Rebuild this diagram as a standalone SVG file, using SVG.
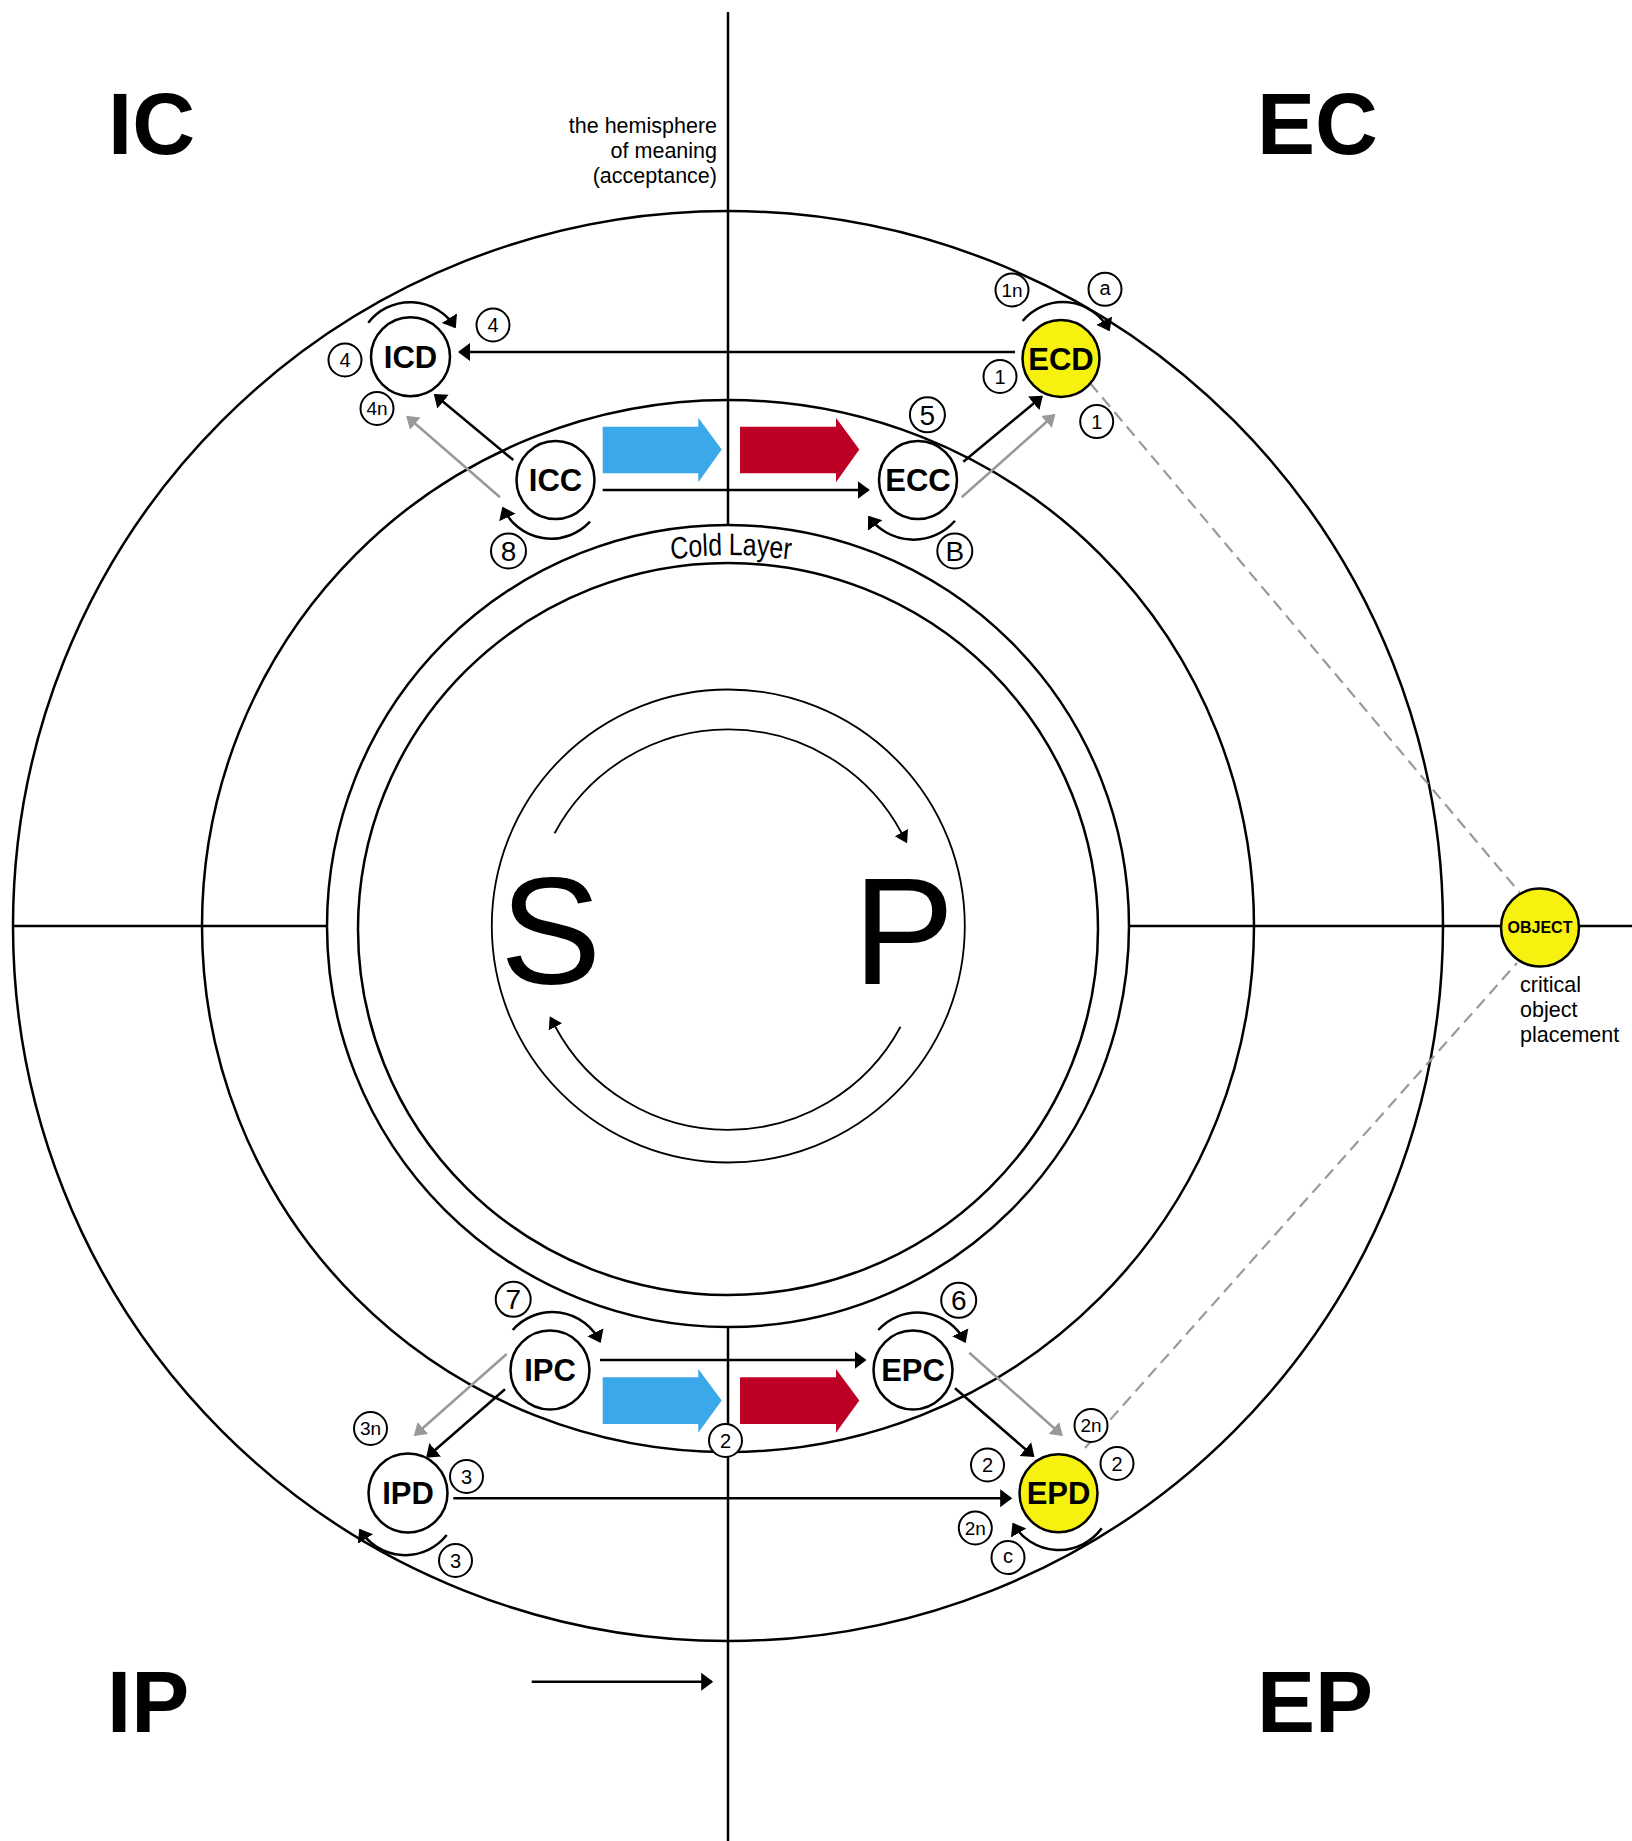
<svg xmlns="http://www.w3.org/2000/svg" width="1632" height="1841" viewBox="0 0 1632 1841">
<style>
text{font-family:'Liberation Sans',Arial,Helvetica,sans-serif;fill:#000}
.ln{fill:none;stroke:#000;stroke-width:2.5}
.thin{fill:none;stroke:#000;stroke-width:1.8}
.arr{fill:none;stroke:#000;stroke-width:2.5;marker-end:url(#ah)}
.garr{fill:none;stroke:#999;stroke-width:2.5;marker-end:url(#gah)}
.iarr{fill:none;stroke:#000;stroke-width:1.8;marker-end:url(#sah)}
.dash{fill:none;stroke:#9a9a9a;stroke-width:2.2;stroke-dasharray:12 7}
.node{fill:#fff;stroke:#000;stroke-width:2.5}
.ynode{fill:#F6F10E;stroke:#000;stroke-width:2.5}
.nl{font-size:31px;font-weight:bold;text-anchor:middle}
.sc{fill:#fff;stroke:#000;stroke-width:2}
.st{font-size:20px;text-anchor:middle}
.sn{font-size:19px;text-anchor:middle}
.bt{font-size:28px;text-anchor:middle}
.big{font-size:87px;font-weight:bold}
.note{font-size:21.5px}
</style>
<defs>
<marker id="ah" markerUnits="userSpaceOnUse" markerWidth="14" markerHeight="20" viewBox="0 0 14 20" refX="10.5" refY="10" orient="auto"><path d="M0,1 L12,10 L0,19 z" fill="#000"/></marker>
<marker id="gah" markerUnits="userSpaceOnUse" markerWidth="14" markerHeight="20" viewBox="0 0 14 20" refX="10.5" refY="10" orient="auto"><path d="M0,2 L12,10 L0,18 z" fill="#999"/></marker>
<marker id="sah" markerUnits="userSpaceOnUse" markerWidth="14" markerHeight="18" viewBox="0 0 14 18" refX="1" refY="8" orient="auto"><path d="M0,0.5 L12,8 L0,15.5 z" fill="#000"/></marker>
<path id="coldpath" d="M -463.75,0 A 463.75 371 0 0 1 463.75,0"/>
</defs>

<g id="background">
<circle cx="728" cy="926" r="715" class="ln"/>
<circle cx="728" cy="926" r="526" class="ln"/>
<circle cx="728" cy="926" r="401" class="ln"/>
<ellipse cx="728" cy="929" rx="370" ry="366" class="ln"/>
<circle cx="728.3" cy="926" r="236.5" class="thin"/>
<line x1="728" y1="12" x2="728" y2="525" class="ln"/>
<line x1="728" y1="1327" x2="728" y2="1841" class="ln"/>
<line x1="12" y1="926" x2="327" y2="926" class="ln"/>
<line x1="1129" y1="926" x2="1632" y2="926" class="ln"/>
</g>

<g id="labels">
<text x="108" y="154" class="big">IC</text>
<text x="1257" y="154" class="big">EC</text>
<text x="107" y="1732" class="big">IP</text>
<text x="1257" y="1732" class="big">EP</text>
<text x="500" y="984" font-size="152">S</text>
<text x="853" y="984" font-size="152">P</text>
<text class="note" text-anchor="end"><tspan x="717" y="132.5">the hemisphere</tspan><tspan x="717" y="157.5">of meaning</tspan><tspan x="717" y="182.5">(acceptance)</tspan></text>
<text class="note"><tspan x="1520" y="991.5">critical</tspan><tspan x="1520" y="1016.5">object</tspan><tspan x="1520" y="1041.5">placement</tspan></text>
<text transform="translate(731,926) scale(0.8,1)" font-size="31"><textPath href="#coldpath" startOffset="50%" text-anchor="middle">Cold Layer</textPath></text>
</g>

<g id="flow-arrows">
<polygon points="602.7,426.7 698.3,426.7 698.3,417.7 721.7,449.5 698.3,482.3 698.3,473.3 602.7,473.3" fill="#3BA8E9"/>
<polygon points="740,426.7 836,426.7 836,417.7 859.3,449.5 836,482.3 836,473.3 740,473.3" fill="#BE0027"/>
<polygon points="602.7,1377.3 698.3,1377.3 698.3,1369 721.7,1400.5 698.3,1432.7 698.3,1424 602.7,1424" fill="#3BA8E9"/>
<polygon points="740,1377.3 836,1377.3 836,1369 859.3,1400.5 836,1432.7 836,1424 740,1424" fill="#BE0027"/>
</g>

<g id="connectors">
<path d="M 554.6,833.2 A 197 197 0 0 1 901.9,833.5" class="iarr"/>
<path d="M 900.5,1026.8 A 196 196 0 0 1 554.9,1026" class="iarr"/>
<path d="M 1015,352 L 459.5,352" class="arr"/>
<path d="M 513.3,460 L 435,395" class="arr"/>
<path d="M 500,497.3 L 407.3,416.7" class="garr"/>
<path d="M 602.7,490 L 868.3,490" class="arr"/>
<path d="M 963.3,461.7 L 1041.7,396.7" class="arr"/>
<path d="M 961.7,497.3 L 1054.3,415" class="garr"/>
<path d="M 600,1360 L 865,1360" class="arr"/>
<path d="M 506.7,1354 L 415,1435" class="garr"/>
<path d="M 505,1389.3 L 427.3,1456.7" class="arr"/>
<path d="M 969.3,1352.7 L 1061.7,1435" class="garr"/>
<path d="M 955,1388.3 L 1033.3,1456" class="arr"/>
<path d="M 453.3,1498.3 L 1010.7,1498.3" class="arr"/>
<path d="M 531.7,1681.7 L 711.7,1681.7" class="arr"/>
<path d="M 368.3,322.7 A 53 53 0 0 1 455,327" class="arr"/>
<path d="M 1022.7,321 A 52 52 0 0 1 1109,330" class="arr"/>
<path d="M 590,521.7 A 53 53 0 0 1 503,508" class="arr"/>
<path d="M 955,520.7 A 55 55 0 0 1 869,517" class="arr"/>
<path d="M 512.7,1330 A 53 53 0 0 1 600,1341.7" class="arr"/>
<path d="M 878.3,1330 A 53 53 0 0 1 965,1341.7" class="arr"/>
<path d="M 446.7,1535 A 53 53 0 0 1 360,1530" class="arr"/>
<path d="M 1101.7,1528.3 A 53 53 0 0 1 1013.3,1524" class="arr"/>
<path d="M 1090,383 L 1520,893" class="dash"/>
<path d="M 1085,1448 L 1517,963" class="dash"/>
</g>

<g id="ICD"><circle cx="410.5" cy="356.7" r="39.5" class="node"/><text x="410.5" y="367.8" class="nl">ICD</text></g>
<g id="ICC"><circle cx="555.5" cy="480" r="39" class="node"/><text x="555.5" y="491.1" class="nl">ICC</text></g>
<g id="ECD"><circle cx="1061" cy="358.5" r="38.5" class="ynode"/><text x="1061" y="369.6" class="nl">ECD</text></g>
<g id="ECC"><circle cx="918" cy="480" r="39" class="node"/><text x="918" y="491.1" class="nl">ECC</text></g>
<g id="IPC"><circle cx="550" cy="1370" r="39.5" class="node"/><text x="550" y="1381.1" class="nl">IPC</text></g>
<g id="EPC"><circle cx="913" cy="1370" r="39.5" class="node"/><text x="913" y="1381.1" class="nl">EPC</text></g>
<g id="IPD"><circle cx="408" cy="1493" r="39.5" class="node"/><text x="408" y="1504.1" class="nl">IPD</text></g>
<g id="EPD"><circle cx="1058.5" cy="1493.3" r="39" class="ynode"/><text x="1058.5" y="1504.4" class="nl">EPD</text></g>
<g id="OBJECT"><circle cx="1540" cy="927.5" r="39" class="ynode"/><text x="1540" y="933.2" font-size="16" font-weight="bold" text-anchor="middle">OBJECT</text></g>

<g id="markers-small">
<g id="m4a"><circle cx="493" cy="325" r="16.5" class="sc"/><text x="493" y="332.2" class="st">4</text></g>
<g id="m4b"><circle cx="345" cy="360" r="16.5" class="sc"/><text x="345" y="367.2" class="st">4</text></g>
<g id="m4n"><circle cx="377" cy="408.5" r="16.5" class="sc"/><text x="377" y="415.3" class="sn">4n</text></g>
<g id="m8"><circle cx="508.5" cy="551" r="17.5" class="sc"/><text x="508.5" y="561" class="bt">8</text></g>
<g id="m1n"><circle cx="1012" cy="290" r="16.5" class="sc"/><text x="1012" y="296.8" class="sn">1n</text></g>
<g id="ma"><circle cx="1105" cy="289.3" r="16.5" class="sc"/><text x="1105" y="294.5" class="st">a</text></g>
<g id="m1a"><circle cx="1000" cy="376.5" r="16.5" class="sc"/><text x="1000" y="383.7" class="st">1</text></g>
<g id="m1b"><circle cx="1096.7" cy="421.6" r="16.5" class="sc"/><text x="1096.7" y="428.8" class="st">1</text></g>
<g id="m5"><circle cx="927.4" cy="414.8" r="17.5" class="sc"/><text x="927.4" y="424.8" class="bt">5</text></g>
<g id="mB"><circle cx="954.8" cy="551" r="17.5" class="sc"/><text x="954.8" y="561" class="bt">B</text></g>
<g id="m7"><circle cx="513.2" cy="1299.3" r="17.5" class="sc"/><text x="513.2" y="1309.3" class="bt">7</text></g>
<g id="m6"><circle cx="958.7" cy="1300.3" r="17.5" class="sc"/><text x="958.7" y="1310.3" class="bt">6</text></g>
<g id="m3n"><circle cx="370.5" cy="1428.5" r="16.5" class="sc"/><text x="370.5" y="1435.3" class="sn">3n</text></g>
<g id="m3a"><circle cx="466.5" cy="1476.5" r="16.5" class="sc"/><text x="466.5" y="1483.7" class="st">3</text></g>
<g id="m3b"><circle cx="455.5" cy="1560.5" r="16.5" class="sc"/><text x="455.5" y="1567.7" class="st">3</text></g>
<g id="m2n1"><circle cx="1091" cy="1425.5" r="16.5" class="sc"/><text x="1091" y="1432.3" class="sn">2n</text></g>
<g id="m2a"><circle cx="987.5" cy="1465" r="16.5" class="sc"/><text x="987.5" y="1472.2" class="st">2</text></g>
<g id="m2b"><circle cx="1117" cy="1463.5" r="16.5" class="sc"/><text x="1117" y="1470.7" class="st">2</text></g>
<g id="m2n2"><circle cx="975.3" cy="1528" r="16.5" class="sc"/><text x="975.3" y="1534.8" class="sn">2n</text></g>
<g id="mc"><circle cx="1008" cy="1557.5" r="16.5" class="sc"/><text x="1008" y="1562.7" class="st">c</text></g>
<g id="m2c"><circle cx="725.5" cy="1440.5" r="16.5" class="sc"/><text x="725.5" y="1447.7" class="st">2</text></g>
</g>
</svg>
